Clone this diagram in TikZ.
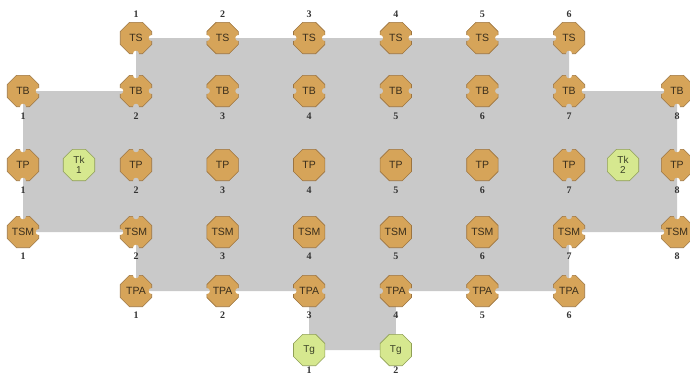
\documentclass[tikz,border=0pt]{standalone}
\usepackage{fontspec}
\setmainfont{Liberation Serif}
\newfontfamily\nodefont{Liberation Sans}
\usetikzlibrary{shapes.geometric,backgrounds}
\definecolor{tan}{HTML}{D6A459}
\definecolor{tanline}{HTML}{9C7440}
\definecolor{tkfill}{HTML}{D6E88F}
\definecolor{tkline}{HTML}{8F9F55}
\definecolor{regiongray}{HTML}{C9C9C9}
\definecolor{nodetext}{HTML}{3A2E1C}
\definecolor{tktext}{HTML}{3C4228}
\tikzset{
  x=1pt,y=-1pt,
  octbase/.style={regular polygon, regular polygon sides=8, minimum size=34pt,
    inner sep=0pt, outer sep=0pt, line width=0.6pt,
    font=\nodefont\fontsize{10.5}{10}\selectfont},
  oct/.style={octbase, fill=tan, draw=tanline, text=nodetext},
  tkoct/.style={octbase, fill=tkfill, draw=tkline, text=tktext,
    align=center, font=\nodefont\fontsize{10}{10}\selectfont},
  lab/.style={font=\bfseries\fontsize{10}{10}\selectfont, text=black!80, inner sep=0pt}
}
% #1 name, #2 x, #3 y, #4 text, #5 label, #6 label dy, #7 notch list dx/dy
\newcommand\octo[7]{%
  \begin{scope}[even odd rule]
    \clip (#2-25,#3-25) rectangle (#2+25,#3+25)
      \foreach \dx/\dy in {#7} {(#2+\dx,#3+\dy) circle[radius=3.1]};
    \node[oct] (#1) at (#2,#3) {#4};
  \end{scope}
  \node[lab] (#1l) at (#2,#3+#6) {#5};
}
\begin{document}
\begin{tikzpicture}
\useasboundingbox (0,0) rectangle (690,376);
% TS row
\octo{TS1}{136}{38}{TS}{1}{-24}{15.7/0,0/15.7}
\octo{TS2}{222.6}{38}{TS}{2}{-24}{-15.7/0,15.7/0}
\octo{TS3}{309.2}{38}{TS}{3}{-24}{-15.7/0,15.7/0}
\octo{TS4}{395.8}{38}{TS}{4}{-24}{-15.7/0,15.7/0}
\octo{TS5}{482.4}{38}{TS}{5}{-24}{-15.7/0,15.7/0}
\octo{TS6}{569}{38}{TS}{6}{-24}{-15.7/0,0/15.7}
% TB row
\octo{TB1}{23}{91}{TB}{1}{25}{15.7/0,0/15.7}
\octo{TB2}{136}{91}{TB}{2}{25}{-15.7/0,15.7/0,0/-15.7,0/15.7}
\octo{TB3}{222.6}{91}{TB}{3}{25}{-15.7/0,15.7/0}
\octo{TB4}{309.2}{91}{TB}{4}{25}{-15.7/0,15.7/0}
\octo{TB5}{395.8}{91}{TB}{5}{25}{-15.7/0,15.7/0}
\octo{TB6}{482.4}{91}{TB}{6}{25}{-15.7/0,15.7/0}
\octo{TB7}{569}{91}{TB}{7}{25}{-15.7/0,15.7/0,0/-15.7,0/15.7}
\octo{TB8}{677}{91}{TB}{8}{25}{-15.7/0,0/15.7}
% TP row
\octo{TP1}{23}{165}{TP}{1}{25}{0/-15.7,0/15.7}
\octo{TP2}{136}{165}{TP}{2}{25}{0/-15.7,0/15.7}
\octo{TP3}{222.6}{165}{TP}{3}{25}{200/200}
\octo{TP4}{309.2}{165}{TP}{4}{25}{200/200}
\octo{TP5}{395.8}{165}{TP}{5}{25}{200/200}
\octo{TP6}{482.4}{165}{TP}{6}{25}{200/200}
\octo{TP7}{569}{165}{TP}{7}{25}{0/-15.7,0/15.7}
\octo{TP8}{677}{165}{TP}{8}{25}{0/-15.7,0/15.7}
\node[tkoct] (Tk1) at (79,165) {Tk\\1};
\node[tkoct] (Tk2) at (623,165) {Tk\\2};
% TSM row
\octo{TSM1}{23}{232}{TSM}{1}{24}{0/-15.7,15.7/0}
\octo{TSM2}{136}{232}{TSM}{2}{24}{0/-15.7,0/15.7,-15.7/0}
\octo{TSM3}{222.6}{232}{TSM}{3}{24}{200/200}
\octo{TSM4}{309.2}{232}{TSM}{4}{24}{200/200}
\octo{TSM5}{395.8}{232}{TSM}{5}{24}{200/200}
\octo{TSM6}{482.4}{232}{TSM}{6}{24}{200/200}
\octo{TSM7}{569}{232}{TSM}{7}{24}{0/-15.7,0/15.7,15.7/0}
\octo{TSM8}{677}{232}{TSM}{8}{24}{0/-15.7,-15.7/0}
% TPA row
\octo{TPA1}{136}{291}{TPA}{1}{24}{0/-15.7,15.7/0}
\octo{TPA2}{222.6}{291}{TPA}{2}{24}{-15.7/0,15.7/0}
\octo{TPA3}{309.2}{291}{TPA}{3}{24}{-15.7/0,15.7/0}
\octo{TPA4}{395.8}{291}{TPA}{4}{24}{-15.7/0,15.7/0}
\octo{TPA5}{482.4}{291}{TPA}{5}{24}{-15.7/0,15.7/0}
\octo{TPA6}{569}{291}{TPA}{6}{24}{0/-15.7,-15.7/0}
% Tg
\node[tkoct] (Tg1) at (309.2,350) {Tg};
\node[lab] (Tg1l) at (309.2,370) {1};
\node[tkoct] (Tg2) at (395.8,350) {Tg};
\node[lab] (Tg2l) at (395.8,370) {2};
% gray region
\begin{scope}[on background layer]
\fill[regiongray] (TS1.center) -- (TS6.center) -- (TB7.center) -- (TB8.center)
  -- (TSM8.center) -- (TSM7.center) -- (TPA6.center) -- (TPA4.center)
  -- (Tg2.center) -- (Tg1.center) -- (TPA3.center) -- (TPA1.center)
  -- (TSM2.center) -- (TSM1.center) -- (TB1.center) -- (TB2.center) -- cycle;
\end{scope}
\end{tikzpicture}
\end{document}
